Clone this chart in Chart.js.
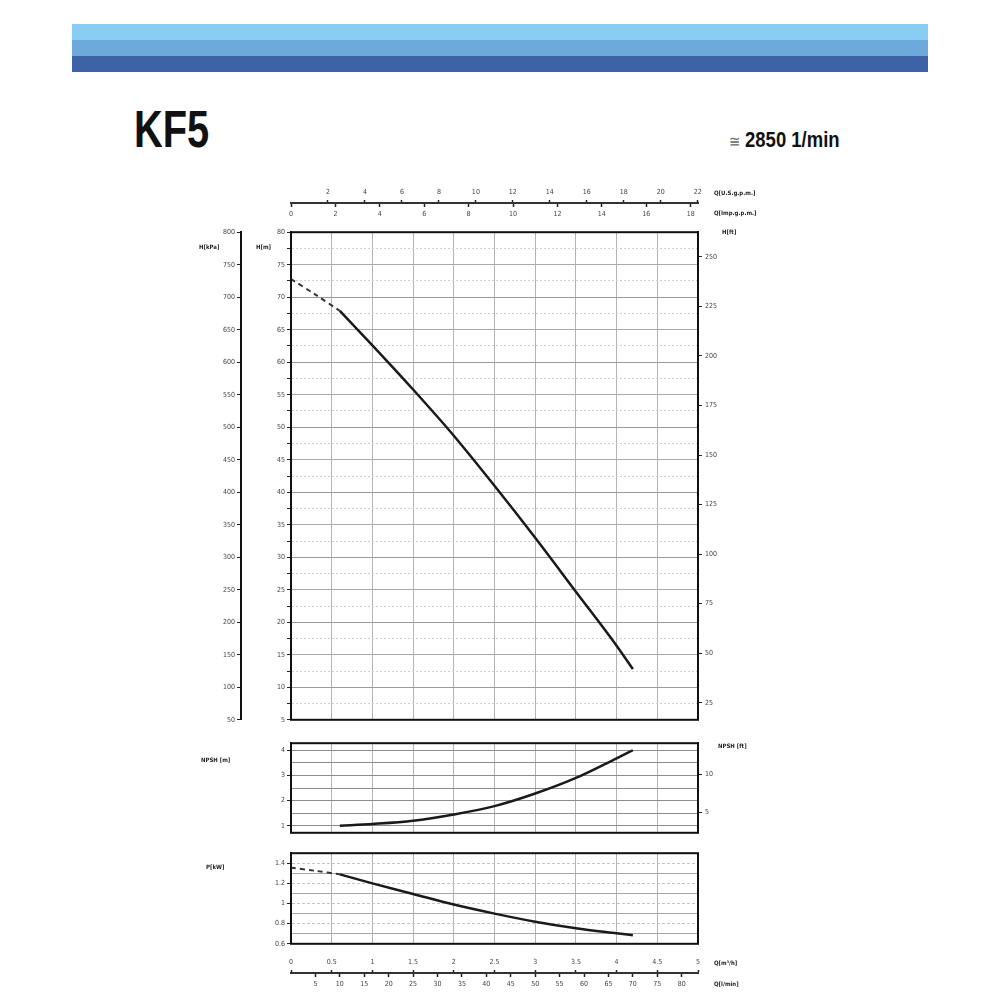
<!DOCTYPE html>
<html>
<head>
<meta charset="utf-8">
<script src="https://cdn.jsdelivr.net/npm/chart.js@4.4.1/dist/chart.umd.min.js"></script>
<style>
body{margin:0;background:#fff;font-family:"Liberation Sans Narrow","DejaVu Sans Condensed",sans-serif;}
#page{position:relative;width:1000px;height:1000px;overflow:hidden;background:#fff;}
.band{position:absolute;left:72px;width:856px;}
canvas{position:absolute;}
.lbl{position:absolute;font-size:6px;font-weight:bold;color:#222;white-space:nowrap;line-height:1;}
</style>
</head>
<body>
<div id="page">
  <div class="band" style="top:24px;height:16px;background:#8acdf2"></div>
  <div class="band" style="top:40px;height:16px;background:#6ea9dc"></div>
  <div class="band" style="top:56px;height:16px;background:#3e62a6"></div>

  <div style="position:absolute;left:134px;top:104px;font:bold 51px/1 'Liberation Sans',sans-serif;color:#111;transform:scaleX(0.78);transform-origin:0 0">KF5</div>
  <div style="position:absolute;left:729px;top:129px;font:bold 22px/1 'Liberation Sans',sans-serif;color:#111;transform:scaleX(0.84);transform-origin:0 0;white-space:nowrap"><span style="font-weight:normal;color:#666;font-size:16px">≅</span> 2850 1/min</div>

  <canvas id="topAxes" width="590" height="41" style="left:190px;top:181px"></canvas>
  <canvas id="mainChart" width="590" height="502" style="left:190px;top:225px"></canvas>
  <canvas id="npshChart" width="590" height="104" style="left:190px;top:736px"></canvas>
  <canvas id="pChart" width="590" height="103" style="left:190px;top:847px"></canvas>
  <canvas id="bottomAxes" width="590" height="43" style="left:190px;top:950px"></canvas>

  <div class="lbl" style="left:714px;top:190px">Q[U.S.g.p.m.]</div>
  <div class="lbl" style="left:714px;top:210px">Q[Imp.g.p.m.]</div>
  <div class="lbl" style="left:722px;top:229px">H[ft]</div>
  <div class="lbl" style="left:199px;top:244px">H[kPa]</div>
  <div class="lbl" style="left:256px;top:244px">H[m]</div>
  <div class="lbl" style="left:201px;top:757px">NPSH [m]</div>
  <div class="lbl" style="left:718px;top:743px">NPSH [ft]</div>
  <div class="lbl" style="left:206px;top:864px">P[kW]</div>
  <div class="lbl" style="left:714px;top:960px">Q[m³/h]</div>
  <div class="lbl" style="left:714px;top:981px">Q[l/min]</div>
</div>

<script>
// unit conversions (from m3/h and m)
const M3H_TO_USGPM = 4.4029;
const M3H_TO_IMPGPM = 3.6662;
const M3H_TO_LMIN = 16.667;
const M_TO_FT = 3.2808;

// tick values
const qTicks = [0, 0.5, 1, 1.5, 2, 2.5, 3, 3.5, 4, 4.5, 5];
const usGpmTicks = [2, 4, 6, 8, 10, 12, 14, 16, 18, 20, 22];
const impGpmTicks = [0, 2, 4, 6, 8, 10, 12, 14, 16, 18];
const lminTicks = [5, 10, 15, 20, 25, 30, 35, 40, 45, 50, 55, 60, 65, 70, 75, 80];
const hTicks = [5, 7.5, 10, 12.5, 15, 17.5, 20, 22.5, 25, 27.5, 30, 32.5, 35, 37.5, 40, 42.5,
                45, 47.5, 50, 52.5, 55, 57.5, 60, 62.5, 65, 67.5, 70, 72.5, 75, 77.5, 80];
const kpaTicks = [50, 100, 150, 200, 250, 300, 350, 400, 450, 500, 550, 600, 650, 700, 750, 800];
const ftTicks = [25, 50, 75, 100, 125, 150, 175, 200, 225, 250];
const npshTicks = [1, 1.5, 2, 2.5, 3, 3.5, 4];
const npshFtTicks = [5, 10];
const pTicks = [0.6, 0.7, 0.8, 0.9, 1.0, 1.1, 1.2, 1.3, 1.4];

// curves, Q in m3/h
const qDash = [0, 0.3, 0.6];
const hDash = [72.8, 70.4, 67.9];
const pDash = [1.356, 1.325, 1.29];

const qCurve = [0.6, 1.0, 1.5, 2.0, 2.5, 3.0, 3.5, 4.0, 4.2];
const hCurve = [67.9, 62.6, 55.8, 48.7, 41.0, 33.0, 24.7, 16.4, 12.8];
const npshCurve = [1.0, 1.07, 1.2, 1.45, 1.78, 2.28, 2.9, 3.68, 4.0];
const pCurve = [1.29, 1.2, 1.095, 0.99, 0.9, 0.82, 0.755, 0.705, 0.686];

const FONT = {family:"'Liberation Sans Narrow','DejaVu Sans Condensed',sans-serif", size:7};
const TICKC = '#444';

Chart.defaults.font.family = FONT.family;
Chart.defaults.animation = false;

const pts = (xs, ys) => xs.map((x, i) => ({x: x, y: ys[i]}));
const fixTicks = vals => s => { s.ticks = vals.map(v => ({value: v})); };
const fixW = w => s => { s.width = w; };
const fixH = h => s => { s.height = h; };
const tv = c => (c.tick ? c.tick.value : undefined);
const plain = v => String(Math.round(v * 100) / 100);

const frame = {
  id: 'frame',
  afterDraw(chart){
    const a = chart.chartArea, c = chart.ctx;
    c.save();
    c.strokeStyle = '#111';
    c.lineWidth = 2;
    c.strokeRect(a.left, a.top, a.right - a.left, a.bottom - a.top);
    c.restore();
  }
};

const baseOpts = {
  responsive: false,
  animation: false,
  events: [],
  plugins: {legend: {display: false}, tooltip: {enabled: false}}
};

const solidLine = {borderColor:'#1a1a1a', borderWidth:2.5, pointRadius:0, cubicInterpolationMode:'monotone', fill:false};
const dashLine = {borderColor:'#333', borderWidth:2, borderDash:[5,4], pointRadius:0, tension:0.3, fill:false};

const qGridAxis = {
  type:'linear', min:0, max:5,
  afterBuildTicks: fixTicks(qTicks),
  afterFit: fixH(0),
  ticks:{display:false},
  grid:{color:'#b4b4b4', drawTicks:false},
  border:{display:false}
};

function leftAxis(extra){
  return Object.assign({
    type:'linear', position:'left', weight:1,
    ticks:{font:FONT, color:TICKC, padding:2, autoSkip:false, callback: plain},
    grid:{tickLength:4, tickColor:'#222', tickWidth:1},
    border:{color:'#111', width:2}
  }, extra);
}

// top Q axes
new Chart(document.getElementById('topAxes'), {
  type:'line',
  data:{datasets:[{data:[], xAxisID:'us', yAxisID:'y'}]},
  options: Object.assign({}, baseOpts, {
    layout:{padding:{left:101, right:82, top:0, bottom:0}},
    scales:{
      us:{type:'linear', position:'top', min:0, max:5 * M3H_TO_USGPM,
        afterBuildTicks: fixTicks(usGpmTicks), afterFit: fixH(22),
        ticks:{font:FONT, color:TICKC, padding:4, autoSkip:false, maxRotation:0, callback: plain},
        grid:{drawOnChartArea:false, tickLength:3, tickColor:'#222', tickWidth:1.5},
        border:{color:'#333', width:2}},
      imp:{type:'linear', position:'bottom', min:0, max:5 * M3H_TO_IMPGPM,
        afterBuildTicks: fixTicks(impGpmTicks), afterFit: fixH(18),
        ticks:{font:FONT, color:TICKC, padding:3, autoSkip:false, maxRotation:0, callback: plain},
        grid:{drawOnChartArea:false, tickLength:3, tickColor:'#222', tickWidth:1.5},
        border:{display:false}},
      y:{display:false}
    }
  })
});

// H(Q)
new Chart(document.getElementById('mainChart'), {
  type:'line',
  data:{datasets:[
    Object.assign({data: pts(qCurve, hCurve)}, solidLine),
    Object.assign({data: pts(qDash, hDash)}, dashLine)
  ]},
  options: Object.assign({}, baseOpts, {
    layout:{padding:{top:6, bottom:6, left:0, right:0}},
    scales:{
      x: qGridAxis,
      y: leftAxis({min:5, max:80, afterBuildTicks: fixTicks(hTicks), afterFit: fixW(50),
        ticks:{font:FONT, color:TICKC, padding:2, autoSkip:false, callback: v => (v % 5 === 0 ? v : '')},
        grid:{tickLength:4, tickColor:'#222',
          color: c => { const v = tv(c); if (v === undefined) return '#aaa'; return v % 10 === 0 ? '#9a9a9a' : (v % 5 === 0 ? '#aaaaaa' : '#d0d0d0'); }},
        border:{color:'#111', width:2, dash: c => { const v = tv(c); return (v !== undefined && v % 5 !== 0) ? [2,2] : []; }}
      }),
      kpa: leftAxis({weight:2, min:50, max:800, afterBuildTicks: fixTicks(kpaTicks), afterFit: fixW(51),
        grid:{drawOnChartArea:false, tickLength:4, tickColor:'#222'}}),
      ft:{type:'linear', position:'right', min:5 * M_TO_FT, max:80 * M_TO_FT,
        afterBuildTicks: fixTicks(ftTicks), afterFit: fixW(82),
        ticks:{font:FONT, color:TICKC, padding:3, autoSkip:false},
        grid:{drawOnChartArea:false, tickLength:4, tickColor:'#222'},
        border:{color:'#111', width:2}}
    }
  }),
  plugins:[frame]
});

// NPSH
new Chart(document.getElementById('npshChart'), {
  type:'line',
  data:{datasets:[Object.assign({data: pts(qCurve, npshCurve)}, solidLine)]},
  options: Object.assign({}, baseOpts, {
    layout:{padding:{top:6, bottom:6, left:0, right:0}},
    scales:{
      x: qGridAxis,
      y: leftAxis({min:0.72, max:4.28, afterBuildTicks: fixTicks(npshTicks), afterFit: fixW(101),
        ticks:{font:FONT, color:TICKC, padding:2, autoSkip:false, callback: v => (Number.isInteger(v) ? v : '')},
        grid:{tickLength:4, tickColor: c => (Number.isInteger(tv(c)) ? '#222' : 'rgba(0,0,0,0)'), color:'#8c8c8c'}
      }),
      ft:{type:'linear', position:'right', min:0.72 * M_TO_FT, max:4.28 * M_TO_FT,
        afterBuildTicks: fixTicks(npshFtTicks), afterFit: fixW(82),
        ticks:{font:FONT, color:TICKC, padding:3, autoSkip:false},
        grid:{drawOnChartArea:false, tickLength:4, tickColor:'#222'},
        border:{color:'#111', width:2}}
    }
  }),
  plugins:[frame]
});

// P
new Chart(document.getElementById('pChart'), {
  type:'line',
  data:{datasets:[
    Object.assign({data: pts(qCurve, pCurve)}, solidLine),
    Object.assign({data: pts(qDash, pDash)}, dashLine)
  ]},
  options: Object.assign({}, baseOpts, {
    layout:{padding:{top:6, bottom:6, left:0, right:82}},
    scales:{
      x: qGridAxis,
      y: leftAxis({min:0.6, max:1.5, afterBuildTicks: fixTicks(pTicks), afterFit: fixW(101),
        ticks:{font:FONT, color:TICKC, padding:2, autoSkip:false,
          callback: v => (Math.round(v * 10) % 2 === 0 ? String(Math.round(v * 10) / 10) : '')},
        grid:{tickLength:4, tickColor: c => (Math.round(tv(c) * 10) % 2 === 0 ? '#222' : 'rgba(0,0,0,0)'),
          color: c => (Math.round(tv(c) * 10) % 2 === 0 ? '#c4c4c4' : '#a8a8a8')},
        border:{color:'#111', width:2, dash: c => { const v = tv(c); return (v !== undefined && Math.round(v * 10) % 2 === 0) ? [3,2] : []; }}
      })
    }
  }),
  plugins:[frame]
});

// bottom Q axes
new Chart(document.getElementById('bottomAxes'), {
  type:'line',
  data:{datasets:[{data:[], xAxisID:'m3h', yAxisID:'y'}]},
  options: Object.assign({}, baseOpts, {
    layout:{padding:{left:101, right:82, top:0, bottom:0}},
    scales:{
      m3h:{type:'linear', position:'top', min:0, max:5,
        afterBuildTicks: fixTicks(qTicks), afterFit: fixH(23),
        ticks:{font:FONT, color:TICKC, padding:4, autoSkip:false, maxRotation:0, callback: plain},
        grid:{drawOnChartArea:false, tickLength:3, tickColor:'#222', tickWidth:1.5},
        border:{color:'#333', width:2}},
      lmin:{type:'linear', position:'bottom', min:0, max:5 * M3H_TO_LMIN,
        afterBuildTicks: fixTicks(lminTicks), afterFit: fixH(19),
        ticks:{font:FONT, color:TICKC, padding:3, autoSkip:false, maxRotation:0, callback: plain},
        grid:{drawOnChartArea:false, tickLength:3, tickColor:'#222', tickWidth:1.5},
        border:{display:false}},
      y:{display:false}
    }
  })
});
</script>
</body>
</html>
